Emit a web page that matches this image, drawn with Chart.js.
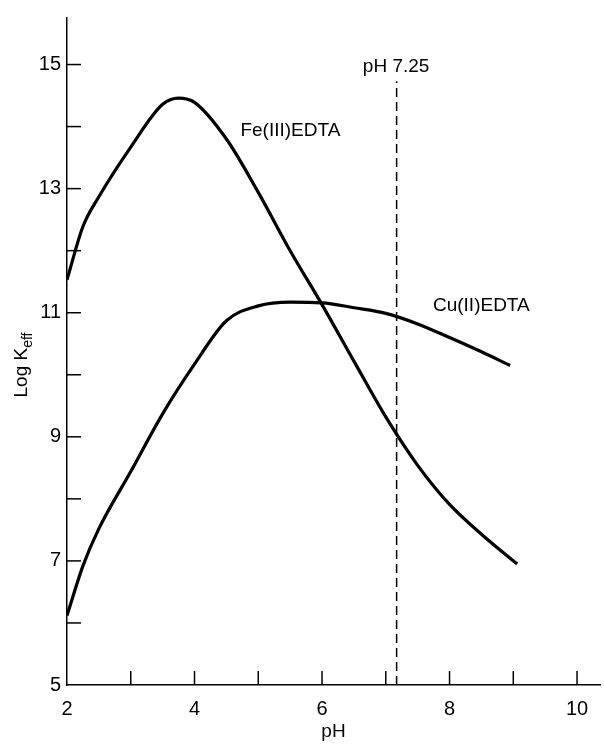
<!DOCTYPE html>
<html>
<head>
<meta charset="utf-8">
<script src="https://cdn.jsdelivr.net/npm/chart.js@4/dist/chart.umd.min.js"></script>
<style>
  html, body { margin:0; padding:0; background:#fff; }
  #wrap { width:604px; height:747px; }
</style>
</head>
<body>
<div id="wrap"><canvas id="c" width="604" height="747"></canvas></div>
<script>
// Log K_eff vs pH for Fe(III)EDTA and Cu(II)EDTA

// ---------- Data ----------
const feX = [2.0, 2.25, 2.5, 3.0, 3.5, 3.75, 4.0, 4.5, 5.0, 5.5, 6.0, 6.5, 7.0, 7.5, 8.0, 8.5, 9.06];
const feY = [11.53, 12.39, 12.87, 13.67, 14.36, 14.46, 14.39, 13.8, 12.94, 12.0, 11.13, 10.22, 9.32, 8.54, 7.91, 7.43, 6.95];

const cuX = [2.0, 2.25, 2.5, 3.0, 3.5, 4.0, 4.5, 5.0, 5.5, 6.0, 6.5, 7.0, 7.5, 8.0, 8.5, 8.95];
const cuY = [6.12, 6.92, 7.52, 8.44, 9.37, 10.17, 10.87, 11.11, 11.17, 11.16, 11.08, 10.99, 10.82, 10.6, 10.37, 10.15];

// vertical marker at pH 7.25 (drawn where it sits in the figure)
const markX = [7.17, 7.17];
const markY = [5, 14.73];

const xTickLabels = [2, 4, 6, 8, 10];
const yTickLabels = [5, 7, 9, 11, 13, 15];

// text labels: [text, x, y]
const notes = [
  ['Fe(III)EDTA', 4.72, 13.93],
  ['Cu(II)EDTA', 7.74, 11.11],
  ['pH 7.25', 6.64, 14.97]
];

const FONT = '"Liberation Sans Narrow", "Liberation Sans", sans-serif';

function pts(xs, ys){ return xs.map((x,i)=>({x, y: ys[i]})); }

// ---------- Plugin: inward ticks, notes, y title with subscript ----------
const decor = {
  id: 'decor',
  afterDraw(chart) {
    const {ctx, scales:{x, y}, chartArea:a} = chart;
    ctx.save();
    ctx.strokeStyle = '#000';
    ctx.lineWidth = 1.5;
    // x ticks every 1 pH, pointing up
    for (let v = 3; v <= 10; v++) {
      const px = x.getPixelForValue(v);
      ctx.beginPath(); ctx.moveTo(px, a.bottom); ctx.lineTo(px, a.bottom - 14); ctx.stroke();
    }
    // y ticks every 1 unit, pointing right
    for (let v = 6; v <= 15; v++) {
      const py = y.getPixelForValue(v);
      ctx.beginPath(); ctx.moveTo(a.left, py); ctx.lineTo(a.left + 14, py); ctx.stroke();
    }
    // notes
    ctx.fillStyle = '#000';
    ctx.font = '19px ' + FONT;
    ctx.textAlign = 'left';
    ctx.textBaseline = 'middle';
    notes.forEach(([t, vx, vy]) => ctx.fillText(t, x.getPixelForValue(vx), y.getPixelForValue(vy)));

    // y title: Log K_eff, rotated
    ctx.translate(22, 365);
    ctx.rotate(-Math.PI/2);
    ctx.textBaseline = 'middle';
    ctx.font = '19px ' + FONT;
    const main = 'Log K';
    const w = ctx.measureText(main).width;
    ctx.font = '14px ' + FONT;
    const ws = ctx.measureText('eff').width;
    const start = -(w + ws) / 2;
    ctx.font = '19px ' + FONT;
    ctx.fillText(main, start, 0);
    ctx.font = '14px ' + FONT;
    ctx.fillText('eff', start + w, 6);
    ctx.restore();
  }
};

new Chart(document.getElementById('c'), {
  type: 'line',
  data: {
    datasets: [
      { label: 'Fe(III)EDTA', data: pts(feX, feY), borderColor: '#000', borderWidth: 3.2,
        pointRadius: 0, cubicInterpolationMode: 'monotone', fill: false },
      { label: 'Cu(II)EDTA', data: pts(cuX, cuY), borderColor: '#000', borderWidth: 3.2,
        pointRadius: 0, cubicInterpolationMode: 'monotone', fill: false },
      { label: 'pH 7.25', data: pts(markX, markY), borderColor: '#000', borderWidth: 1.5,
        borderDash: [9, 5], pointRadius: 0, fill: false }
    ]
  },
  options: {
    responsive: false,
    animation: false,
    layout: { padding: { top: 13, right: 4, left: 0, bottom: 0 } },
    plugins: { legend: { display: false }, tooltip: { enabled: false } },
    scales: {
      x: {
        type: 'linear', min: 2, max: 10.36,
        afterFit(s){ s.height = 62; },
        grid: { display: true, drawOnChartArea: false, drawTicks: false },
        border: { display: true, color: '#000', width: 1.5 },
        ticks: {
          stepSize: 1, includeBounds: false, padding: 12, color: '#000', autoSkip: false, maxRotation: 0,
          font: { family: FONT, size: 20 },
          callback: v => xTickLabels.includes(v) ? String(v) : ''
        },
        title: { display: true, text: 'pH', color: '#000', font: { family: FONT, size: 19 }, padding: { top: 2 } }
      },
      y: {
        type: 'linear', min: 5, max: 15.75,
        afterFit(s){ s.width = 67; },
        grid: { display: true, drawOnChartArea: false, drawTicks: false },
        border: { display: true, color: '#000', width: 1.5 },
        ticks: {
          stepSize: 1, includeBounds: false, padding: 6, color: '#000', autoSkip: false,
          font: { family: FONT, size: 20 },
          callback: v => yTickLabels.includes(v) ? String(v) : ''
        }
      }
    }
  },
  plugins: [decor]
});
</script>
</body>
</html>
